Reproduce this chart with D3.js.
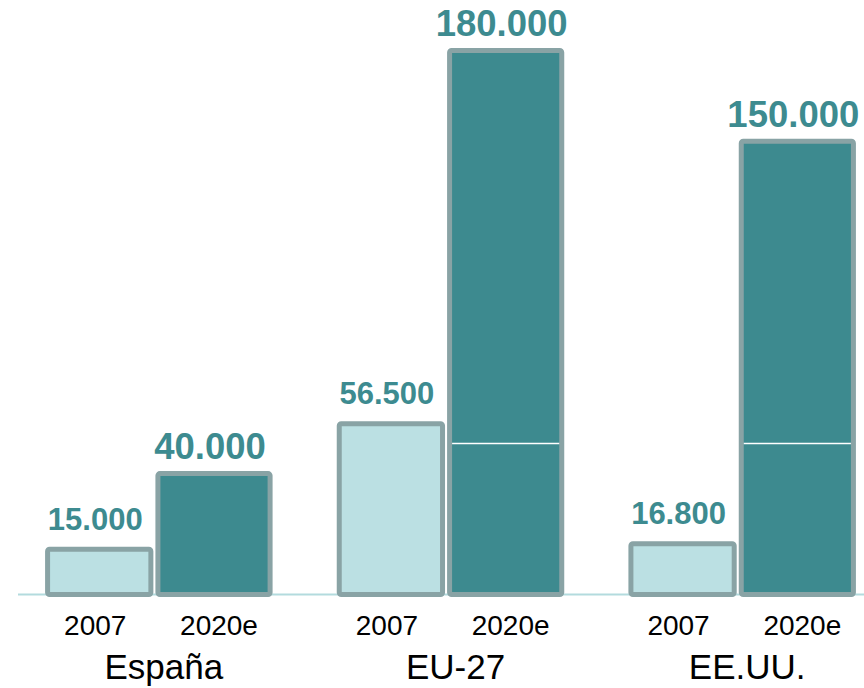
<!DOCTYPE html>
<html>
  <head>
    <meta charset="UTF-8">
    <script src="https://cdn.jsdelivr.net/npm/d3@7"></script>
    <style>
      body { margin: 0; background: #fff; }
      text { font-family: "Liberation Sans", Arial, sans-serif; }
    </style>
  </head>
  <body>
    <svg id="chart" width="864" height="688"></svg>
    <script type="text/javascript">
      // datos
      var regions = ['España', 'EU-27', 'EE.UU.'];
      var years = ['2007', '2020e'];
      var values2007 = [15000, 56500, 16800];
      var values2020 = [40000, 180000, 150000];
      var gridValue = 50000;

      var fills = { '2007': '#bbe0e3', '2020e': '#3d8a8f' };
      var labelSize = { '2007': 31, '2020e': 36.5 };
      var labelGap = { '2007': 17, '2020e': 12 };
      // parte del grupo que ocupa cada barra (inicio, ancho)
      var share = { '2007': [0, 0.476], '2020e': [0.485, 0.515] };

      var rows = [];
      regions.forEach(function(r, i) {
        rows.push({ region: r, year: '2007', value: values2007[i] });
        rows.push({ region: r, year: '2020e', value: values2020[i] });
      });

      var svg = d3.select('#chart');

      var x0 = d3.scaleBand().domain(regions).range([13, 888])
        .paddingInner(0.22).paddingOuter(0.11);
      var bw = x0.bandwidth();
      var y = d3.scaleLinear().domain([0, 180000]).range([594.5, 50.5]);

      var sw = 5;

      function barX(d) { return x0(d.region) + share[d.year][0] * bw; }
      function barW(d) { return share[d.year][1] * bw; }

      // linea base
      svg.append('line')
        .attr('x1', 18).attr('x2', 864)
        .attr('y1', y(0)).attr('y2', y(0))
        .attr('stroke', '#b3dbde').attr('stroke-width', 2);

      var bars = svg.selectAll('g.bar').data(rows).enter().append('g')
        .attr('class', 'bar')
        .attr('transform', function(d) { return 'translate(' + barX(d) + ',0)'; });

      bars.append('rect')
        .attr('x', sw / 2)
        .attr('width', function(d) { return barW(d) - sw; })
        .attr('y', function(d) { return y(d.value); })
        .attr('height', function(d) { return y(0) - y(d.value); })
        .attr('rx', 2)
        .attr('fill', function(d) { return fills[d.year]; })
        .attr('stroke', '#89a3a5')
        .attr('stroke-width', sw);

      // linea de cuadricula blanca sobre las barras oscuras
      bars.filter(function(d) { return d.year === '2020e' && d.value > gridValue; })
        .append('line')
        .attr('x1', sw).attr('x2', function(d) { return barW(d) - sw; })
        .attr('y1', y(gridValue)).attr('y2', y(gridValue))
        .attr('stroke', '#fff').attr('stroke-width', 1.5);

      bars.append('text')
        .attr('x', function(d) { return barW(d) / 2 - 4; })
        .attr('y', function(d) { return y(d.value) - sw / 2 - labelGap[d.year]; })
        .attr('text-anchor', 'middle')
        .attr('fill', '#3d8b90')
        .attr('font-weight', 'bold')
        .attr('font-size', function(d) { return labelSize[d.year]; })
        .text(function(d) { return d3.format(',')(d.value).replace(/,/g, '.'); });

      bars.append('text')
        .attr('x', function(d) { return barW(d) / 2 + (d.year === '2020e' ? 5 : -4); })
        .attr('y', 635)
        .attr('text-anchor', 'middle')
        .attr('fill', '#000')
        .attr('font-size', 28)
        .text(function(d) { return d.year; });

      svg.selectAll('text.region').data(regions).enter().append('text')
        .attr('class', 'region')
        .attr('x', function(d) { return x0(d) + bw / 2 + 5; })
        .attr('y', 679)
        .attr('text-anchor', 'middle')
        .attr('fill', '#000')
        .attr('font-size', 35)
        .text(function(d) { return d; });
    </script>
  </body>
</html>
